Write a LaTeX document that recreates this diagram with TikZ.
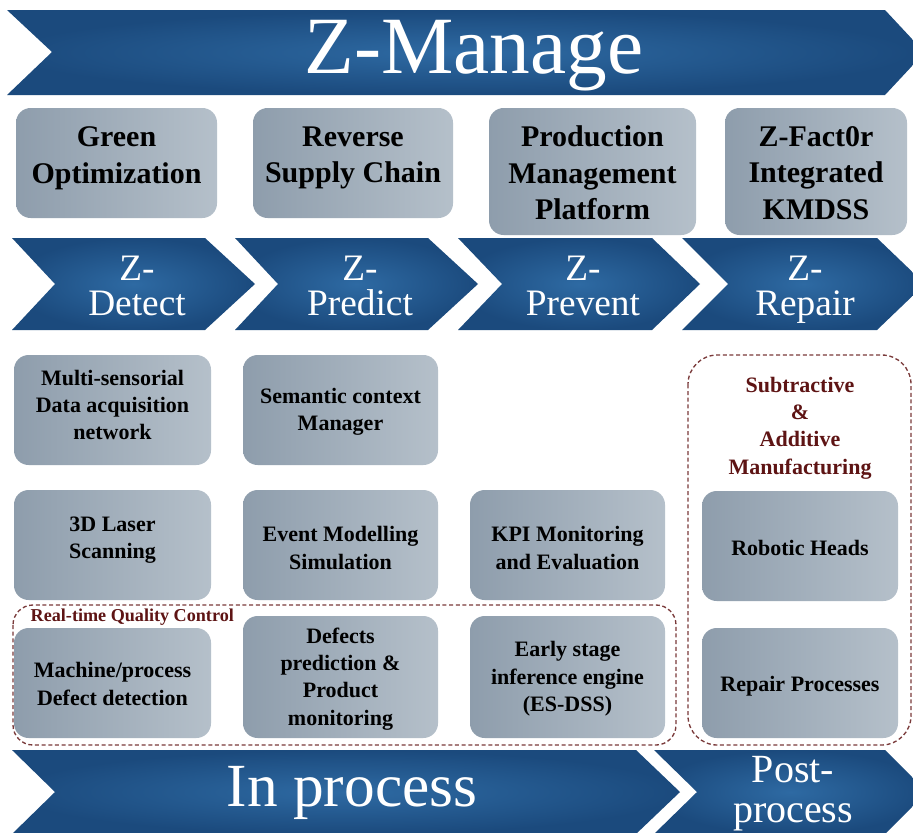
\documentclass[tikz,border=0pt]{standalone}
\usepackage{fontspec}
\setmainfont{Liberation Serif}
\definecolor{bdark}{HTML}{1B4A7D}
\definecolor{blight}{HTML}{2E6AA3}
\definecolor{gdark}{HTML}{8E9DAC}
\definecolor{glight}{HTML}{B5C0CA}
\definecolor{dred}{HTML}{5E1414}
\definecolor{dashred}{HTML}{7A3A3A}
\tikzset{
  chev/.style={inner color=blight, outer color=bdark, draw=none},
  chevtext/.style={text=white, align=center, font=\fontsize{28pt}{26pt}\selectfont},
  gbox/.style={rounded corners=11pt, left color=gdark, right color=glight, draw=none,
    align=center, inner sep=0pt, font=\bfseries\fontsize{16.5pt}{20.5pt}\selectfont},
  bigtext/.style={align=center, font=\bfseries\fontsize{22.5pt}{27.5pt}\selectfont},
  smalltext/.style={align=center, font=\bfseries\fontsize{16.5pt}{20.5pt}\selectfont},
  dbox/.style={draw=dashred, dashed, line width=1pt, dash pattern=on 3pt off 2pt},
  redtext/.style={text=dred, align=center, font=\bfseries\fontsize{16.5pt}{20.5pt}\selectfont}
}
\begin{document}
\begin{tikzpicture}[x=0.75pt,y=-0.75pt]
\useasboundingbox (0,0) rectangle (913,832);
\clip (0,0) rectangle (913,832);
\fill[white] (0,0) rectangle (913,832);
% top banner
\path[chev] (7,10) -- (885,10) -- (913,40) -- (913,65) -- (885,95) -- (7,95) -- (52,52) -- cycle;
\node[text=white, font=\fontsize{61pt}{61pt}\selectfont] (zm) at (474,56) {Z-Manage};
% first row boxes
\node[gbox, minimum width=150.75pt, minimum height=82.5pt] (g1) at (116.5,163) {};
\node[gbox, minimum width=150pt, minimum height=82.5pt] (g2) at (353,163) {};
\node[gbox, minimum width=155.25pt, minimum height=95.25pt] (g3) at (592.5,171.5) {};
\node[gbox, minimum width=136.5pt, minimum height=95.25pt] (g4) at (816,171.5) {};
\node[bigtext] (g1t) at (116.5,158) {Green\\Optimization};
\node[bigtext] (g2t) at (353,158) {Reverse\\Supply Chain};
\node[bigtext] (g3t) at (592.5,173) {Production\\Management\\Platform};
\node[bigtext] (g4t) at (816,173) {Z-Fact0r\\Integrated\\KMDSS};
% chevrons
\path[chev] (12,238) -- (205,238) -- (255,284) -- (205,330) -- (12,330) -- (55,284) -- cycle;
\path[chev] (235,238) -- (428,238) -- (478,284) -- (428,330) -- (235,330) -- (278,284) -- cycle;
\path[chev] (458,238) -- (652,238) -- (700,284) -- (652,330) -- (458,330) -- (502,284) -- cycle;
\path[chev] (682,238) -- (877,238) -- (925,284) -- (877,330) -- (682,330) -- (728,284) -- cycle;
\node[chevtext] (c1) at (137,290) {Z-\\Detect\vphantom{p}};
\node[chevtext] (c2) at (360,290) {Z-\\Predict\vphantom{p}};
\node[chevtext] (c3) at (583,290) {Z-\\Prevent\vphantom{p}};
\node[chevtext] (c4) at (805,290) {Z-\\Repair};
% dashed groups
\draw[dbox, rounded corners=22pt] (688,355) rectangle (911,745);
\draw[dbox, rounded corners=15pt] (13,605) rectangle (676,745);
\node[redtext] (sam) at (800,428) {Subtractive\\\&\\Additive\\Manufacturing};
\node[text=dred, font=\bfseries\fontsize{13.6pt}{15pt}\selectfont, anchor=west] (rqc) at (26,617) {Real-time Quality Control};
% grey boxes
\node[gbox, minimum width=147.75pt, minimum height=82.5pt] (b1) at (112.5,410) {};
\node[smalltext] (b1t) at (112.5,405) {Multi-sensorial\\Data acquisition\\network};
\node[gbox, minimum width=146.25pt, minimum height=82.5pt] (b2) at (340.5,410) {};
\node[smalltext] (b2t) at (340.5,412) {Semantic context\\Manager};
\node[gbox, minimum width=147.75pt, minimum height=82.5pt] (b3) at (112.5,545) {};
\node[smalltext] (b3t) at (112.5,540) {3D Laser\\Scanning};
\node[gbox, minimum width=146.25pt, minimum height=82.5pt] (b4) at (340.5,545) {};
\node[smalltext] (b4t) at (340.5,548) {Event Modelling\\Simulation};
\node[gbox, minimum width=146.25pt, minimum height=82.5pt] (b5) at (567.5,545) {};
\node[smalltext] (b5t) at (567.5,548) {KPI Monitoring\\and Evaluation};
\node[gbox, minimum width=147.75pt, minimum height=82.5pt] (b6) at (112.5,683) {};
\node[smalltext] (b6t) at (112.5,684) {Machine/process\\Defect detection};
\node[gbox, minimum width=146.25pt, minimum height=91.5pt] (b7) at (340.5,677) {};
\node[smalltext] (b7t) at (340.5,679) {Defects\\prediction \&\\Product\\monitoring};
\node[gbox, minimum width=146.25pt, minimum height=91.5pt] (b8) at (567.5,677) {};
\node[smalltext] (b8t) at (567.5,679) {Early stage\\inference engine\\(ES-DSS)};
\node[gbox, minimum width=147pt, minimum height=82.5pt] (b9) at (800,546) {};
\node[smalltext] (b9t) at (800,548) {Robotic Heads};
\node[gbox, minimum width=147pt, minimum height=82.5pt] (b10) at (800,683) {};
\node[smalltext] (b10t) at (800,686) {Repair Processes};
% bottom chevrons
\path[chev] (12,750) -- (636,750) -- (680,792) -- (636,834) -- (12,834) -- (55,792) -- cycle;
\path[chev] (654,750) -- (885,750) -- (927,792) -- (885,834) -- (654,834) -- (697,792) -- cycle;
\node[text=white, font=\fontsize{46pt}{46pt}\selectfont] (inp) at (352,793) {In process};
\node[text=white, align=center, font=\fontsize{30pt}{30pt}\selectfont] (post) at (793,794) {Post-\\process};
\end{tikzpicture}
\end{document}
